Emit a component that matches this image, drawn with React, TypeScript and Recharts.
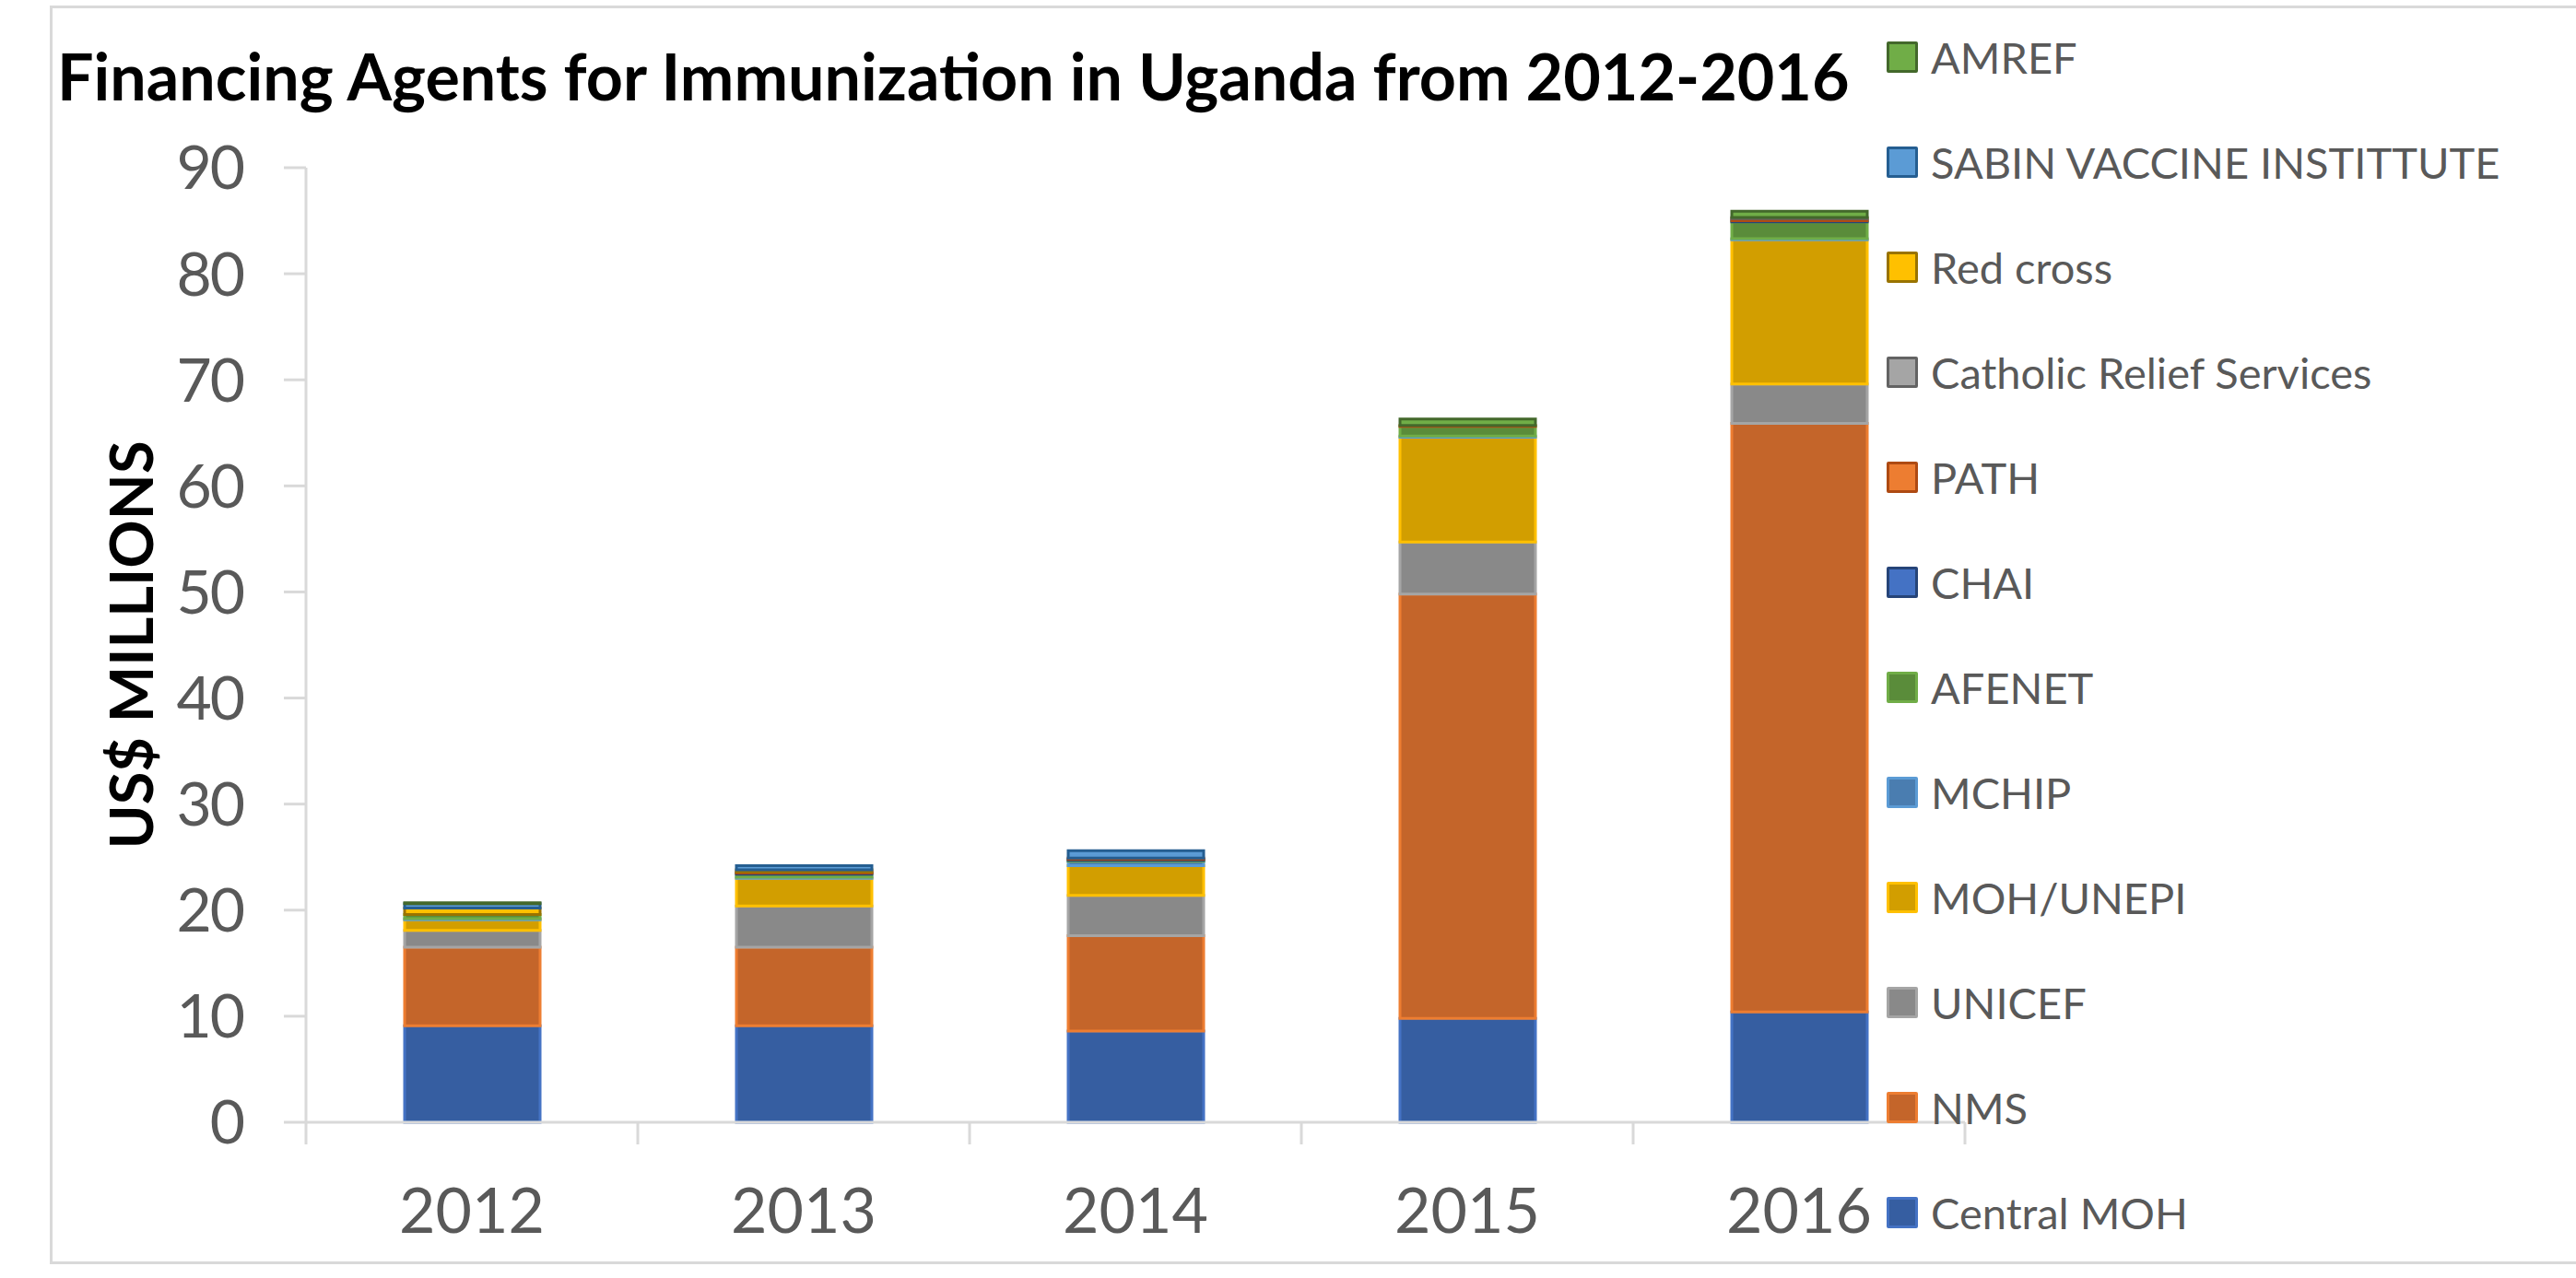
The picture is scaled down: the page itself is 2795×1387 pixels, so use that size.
import React from "react";
import { BarChart, Bar, XAxis, YAxis } from "recharts";

const years = ["2012", "2013", "2014", "2015", "2016"];

// US$ millions per financing agent
const centralMoh = [9.1, 9.1, 8.6, 9.8, 10.4];
const nms = [7.4, 7.4, 9.0, 40.0, 55.5];
const unicef = [1.6, 3.9, 3.8, 4.9, 3.7];
const mohUnepi = [1.0, 2.6, 2.8, 9.9, 13.6];
const mchip = [0.1, 0.1, 0.4, 0.1, 0.1];
const afenet = [0.4, 0.3, 0.1, 0.9, 1.6];
const chai = [0, 0.1, 0.1, 0, 0.1];
const path = [0, 0.1, 0.1, 0.1, 0.2];
const catholicRelief = [0, 0, 0, 0, 0.1];
const redCross = [0.6, 0.2, 0, 0, 0];
const sabin = [0.4, 0.4, 0.7, 0, 0];
const amref = [0.1, 0, 0, 0.6, 0.6];

const yTicks = [0, 10, 20, 30, 40, 50, 60, 70, 80, 90];

// bottom of the stack first
const series = [
  { key: "centralMoh", name: "Central MOH", values: centralMoh, fill: "#365EA1", stroke: "#4472C4" },
  { key: "nms", name: "NMS", values: nms, fill: "#C4652A", stroke: "#ED7D31" },
  { key: "unicef", name: "UNICEF", values: unicef, fill: "#898989", stroke: "#A5A5A5" },
  { key: "mohUnepi", name: "MOH/UNEPI", values: mohUnepi, fill: "#D29E00", stroke: "#FFC000" },
  { key: "mchip", name: "MCHIP", values: mchip, fill: "#4A7DB0", stroke: "#5B9BD5" },
  { key: "afenet", name: "AFENET", values: afenet, fill: "#5A8C3A", stroke: "#70AD47" },
  { key: "chai", name: "CHAI", values: chai, fill: "#4472C4", stroke: "#264478" },
  { key: "path", name: "PATH", values: path, fill: "#ED7D31", stroke: "#AE4A12" },
  { key: "catholicRelief", name: "Catholic Relief Services", values: catholicRelief, fill: "#A5A5A5", stroke: "#636363" },
  { key: "redCross", name: "Red cross", values: redCross, fill: "#FFC000", stroke: "#997300" },
  { key: "sabin", name: "SABIN VACCINE INSTITTUTE", values: sabin, fill: "#5B9BD5", stroke: "#255E91" },
  { key: "amref", name: "AMREF", values: amref, fill: "#70AD47", stroke: "#43682B" },
];

const data = years.map((year, i) => {
  const row: Record<string, string | number> = { year };
  series.forEach((s) => {
    row[s.key] = s.values[i];
  });
  return row;
});

const FONT = "Lato, 'Open Sans', sans-serif";
const AXIS_GRAY = "#D9D9D9";
const TEXT_GRAY = "#595959";

function YearTick(props: any) {
  const { x, y, payload, index, visibleTicksCount, width } = props;
  const half = payload?.offset || width / visibleTicksCount / 2;
  const last = index === visibleTicksCount - 1;
  return (
    <g>
      <line x1={x - half} x2={x - half} y1={y} y2={y + 24} stroke={AXIS_GRAY} strokeWidth={3} />
      {last && <line x1={x + half} x2={x + half} y1={y} y2={y + 24} stroke={AXIS_GRAY} strokeWidth={3} />}
      <text x={x} y={y + 120} textAnchor="middle" fill={TEXT_GRAY} fontSize={68} fontFamily={FONT}>
        {payload.value}
      </text>
    </g>
  );
}

export default function App() {
  return (
    <div style={{ position: "absolute", left: 0, top: 0, width: 2795, height: 1387, background: "#fff", fontFamily: FONT }}>
      <div
        style={{
          position: "absolute",
          left: 54,
          top: 6,
          width: 2795,
          height: 1366,
          borderTop: `3px solid ${AXIS_GRAY}`,
          borderLeft: `3px solid ${AXIS_GRAY}`,
          borderBottom: `3px solid ${AXIS_GRAY}`,
          boxSizing: "border-box",
        }}
      />
      <div style={{ position: "absolute", left: 0, top: 0 }}>
        <BarChart width={2795} height={1387} data={data} margin={{ top: 182, right: 663, bottom: 49, left: 182 }}>
          <XAxis
            dataKey="year"
            height={120}
            axisLine={{ stroke: AXIS_GRAY, strokeWidth: 3 }}
            tickLine={false}
            tickSize={0}
            tickMargin={0}
            tick={<YearTick />}
            interval={0}
          />
          <YAxis
            width={150}
            domain={[0, 90]}
            ticks={yTicks}
            interval={0}
            axisLine={{ stroke: AXIS_GRAY, strokeWidth: 3 }}
            tickLine={{ stroke: AXIS_GRAY, strokeWidth: 3 }}
            tickSize={24}
            tickMargin={44}
            tick={{ fill: TEXT_GRAY, fontSize: 66, fontFamily: FONT, letterSpacing: -2 }}
          />
          {series.map((s) => (
            <Bar
              key={s.key}
              dataKey={s.key}
              name={s.name}
              stackId="a"
              barSize={147}
              fill={s.fill}
              stroke={s.stroke}
              strokeWidth={3}
              isAnimationActive={false}
            />
          ))}
        </BarChart>
      </div>
      <svg width={2795} height={1387} style={{ position: "absolute", left: 0, top: 0, pointerEvents: "none" }}>
        <text x={62} y={109} fontSize={70} fontWeight={700} fill="#000" fontFamily={FONT}>
          Financing Agents for Immunization in Uganda from 2012-2016
        </text>
        <text
          x={0}
          y={0}
          transform="translate(166, 700) rotate(-90)"
          textAnchor="middle"
          fontSize={65}
          fontWeight={700}
          fill="#000"
          fontFamily={FONT}
        >
          US$ MILLIONS
        </text>
      </svg>
      <div style={{ position: "absolute", left: 2047, top: 5 }}>
        {[...series].reverse().map((s) => (
          <div key={s.key} style={{ height: 114, display: "flex", alignItems: "center" }}>
            <div
              style={{
                width: 34,
                height: 34,
                boxSizing: "border-box",
                background: s.fill,
                border: `3px solid ${s.stroke}`,
                borderRadius: 2,
                marginRight: 14,
              }}
            />
            <span style={{ fontSize: 47, color: TEXT_GRAY, whiteSpace: "nowrap", lineHeight: 1 }}>{s.name}</span>
          </div>
        ))}
      </div>
    </div>
  );
}
